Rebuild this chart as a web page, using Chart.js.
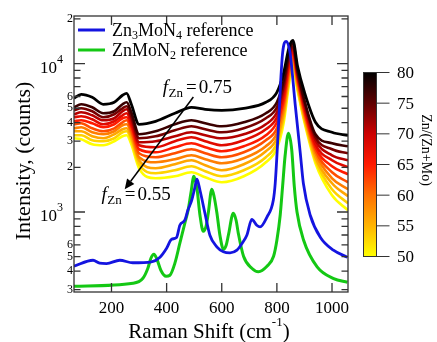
<!DOCTYPE html>
<html>
<head>
<meta charset="utf-8">
<script src="https://cdn.jsdelivr.net/npm/chart.js@4.4.1/dist/chart.umd.min.js"></script>
<style>
  html, body { margin: 0; padding: 0; background: #fff; }
  #wrap { width: 437px; height: 342px; }
</style>
</head>
<body>
<div id="wrap"><canvas id="myChart" width="437" height="342"></canvas></div>
<script>
// Raman shift grid of the measured spectra (cm-1)
var shiftX = [64, 90, 130, 170, 210, 240, 255, 272, 300, 360, 430, 490, 540, 600, 680, 760, 800, 825, 845, 858, 875, 900, 940, 1000, 1058];

// Zn/(Zn+Mo) of each measured spectrum, top to bottom
var fracZn = [80, 77, 74, 71, 68, 65, 62, 59, 56, 53, 50];

// intensities (counts)
var spec80 = [5838, 6212, 5929, 5319, 5487, 6116, 6309, 5319, 3900, 4086, 4627, 5078, 4923, 4847, 5000, 5487, 6408, 8739, 13080, 14357, 9591, 6408, 4023, 3445, 3289];
var spec77 = [5078, 5319, 5078, 4627, 4772, 5319, 5487, 4699, 3340, 3499, 3900, 4150, 3961, 3781, 4023, 4627, 5487, 7719, 12294, 13704, 9014, 5660, 3340, 2905, 2773];
var spec74 = [4847, 5000, 4772, 4348, 4555, 5000, 5157, 4416, 3139, 3238, 3554, 3781, 3609, 3445, 3665, 4281, 5078, 7143, 11554, 13080, 8739, 5487, 3188, 2647, 2487];
var spec71 = [4555, 4699, 4485, 4150, 4281, 4772, 4923, 4215, 2950, 2996, 3238, 3445, 3289, 3139, 3340, 3900, 4699, 6713, 11028, 12681, 8472, 5238, 3043, 2411, 2231];
var spec68 = [4348, 4416, 4215, 3900, 4086, 4485, 4627, 3961, 2816, 2730, 2996, 3188, 2996, 2816, 3043, 3609, 4348, 6212, 10365, 12105, 8213, 5078, 2860, 2231, 2002];
var spec65 = [4086, 4150, 3961, 3723, 3900, 4281, 4348, 3781, 2647, 2526, 2730, 2905, 2730, 2566, 2773, 3289, 4023, 5748, 9893, 11735, 7962, 4847, 2730, 2033, 1796];
var spec62 = [3900, 3961, 3665, 3499, 3665, 4023, 4150, 3554, 2487, 2337, 2487, 2647, 2487, 2337, 2526, 3043, 3665, 5403, 9298, 11201, 7719, 4699, 2606, 1853, 1586];
var spec59 = [3665, 3723, 3445, 3340, 3499, 3840, 3900, 3392, 2337, 2163, 2266, 2411, 2266, 2130, 2301, 2773, 3392, 5000, 8875, 10859, 7368, 4485, 2487, 1688, 1423];
var spec56 = [3499, 3499, 3238, 3139, 3340, 3609, 3665, 3188, 2231, 1971, 2097, 2231, 2065, 1911, 2097, 2566, 3139, 4627, 8341, 10365, 7143, 4348, 2337, 1562, 1277];
var spec53 = [3289, 3289, 3043, 2996, 3139, 3445, 3499, 3043, 2097, 1824, 1911, 2033, 1882, 1741, 1911, 2337, 2905, 4348, 7962, 10048, 6818, 4150, 2231, 1423, 1146];
var spec50 = [3139, 3091, 2860, 2816, 2996, 3238, 3289, 2860, 1971, 1688, 1741, 1853, 1714, 1586, 1741, 2163, 2688, 4023, 7483, 9591, 6610, 4023, 2130, 1297, 1027];
var spectra = [spec80, spec77, spec74, spec71, spec68, spec65, spec62, spec59, spec56, spec53, spec50];

// reference spectra
var zn3mon4X = [64, 133, 157, 182, 230, 277, 345, 376, 400, 418, 436, 448, 466, 477, 491, 503, 510, 521, 539, 557, 582, 606, 630, 655, 677, 691, 709, 727, 739, 764, 787, 794, 805, 814, 821, 834, 848, 866, 885, 896, 921, 958, 1005, 1056];
var zn3mon4Y = [431, 473, 452, 449, 473, 455, 462, 496, 570, 655, 673, 814, 880, 1027, 1200, 1476, 1662, 1401, 981, 697, 583, 540, 531, 553, 628, 697, 890, 814, 793, 925, 1200, 1562, 3554, 7719, 11918, 14136, 11735, 5403, 2487, 1562, 951, 673, 553, 496];
var znmon2X = [64, 278, 314, 332, 343, 354, 365, 379, 398, 412, 430, 448, 467, 478, 488, 499, 510, 521, 533, 543, 551, 564, 572, 582, 594, 606, 616, 624, 642, 652, 660, 679, 709, 733, 764, 788, 800, 812, 821, 830, 842, 854, 863, 873, 897, 946, 1006, 1056];
var znmon2Y = [316, 331, 358, 418, 488, 519, 480, 405, 369, 375, 452, 616, 853, 1027, 1337, 1741, 1445, 951, 742, 801, 980, 1423, 1277, 996, 686, 561, 597, 697, 980, 880, 720, 503, 418, 396, 431, 503, 645, 951, 1514, 2411, 3392, 2606, 1500, 1000, 645, 427, 356, 336];

// ticks
var xTicks = [200, 400, 600, 800, 1000];
var yMajor = [1000, 10000];
var yMinor = [300, 400, 500, 600, 700, 800, 900, 2000, 3000, 4000, 5000, 6000, 7000, 8000, 9000, 20000];
var yLabelled = [300, 400, 500, 600, 2000, 3000, 4000, 5000, 6000, 20000];
var barTicks = [50, 55, 60, 65, 70, 75, 80];

var SERIF = '"Liberation Serif", "DejaVu Serif", serif';

// colour map of the bar (yellow -> red -> black)
var stops = [[50, [255, 255, 0]], [55, [255, 180, 0]], [60, [255, 112, 0]], [65, [255, 26, 0]], [70, [204, 0, 0]], [75, [96, 0, 0]], [80, [0, 0, 0]]];
function hotColor(f) {
  for (var i = 1; i < stops.length; i++) {
    if (f <= stops[i][0]) {
      var a = stops[i - 1], b = stops[i];
      var t = (f - a[0]) / (b[0] - a[0]);
      var c = a[1].map(function (v, k) { return Math.round(v + (b[1][k] - v) * t); });
      return 'rgb(' + c.join(',') + ')';
    }
  }
  return 'rgb(0,0,0)';
}

function toPoints(xs, ys) {
  return xs.map(function (x, i) { return { x: x, y: ys[i] }; });
}

var datasets = [
  { label: 'Zn3MoN4 reference', data: toPoints(zn3mon4X, zn3mon4Y), borderColor: '#1414e0', borderWidth: 2.8 },
  { label: 'ZnMoN2 reference', data: toPoints(znmon2X, znmon2Y), borderColor: '#14c814', borderWidth: 3 }
];
spectra.forEach(function (s, i) {
  datasets.push({ label: 'f' + fracZn[i], data: toPoints(shiftX, s), borderColor: hotColor(fracZn[i]), borderWidth: i == 0 ? 2.8 : 2.6 });
});

function drawRich(ctx, x, y, parts, align) {
  var w = 0;
  parts.forEach(function (p) { ctx.font = p[1]; w += (p[3] || 0) + ctx.measureText(p[0]).width; });
  var cx = align === 'center' ? x - w / 2 : x;
  ctx.textAlign = 'left';
  ctx.textBaseline = 'alphabetic';
  parts.forEach(function (p) {
    ctx.font = p[1];
    cx += p[3] || 0;
    ctx.fillText(p[0], cx, y + (p[2] || 0));
    cx += ctx.measureText(p[0]).width;
  });
}

// annotation anchors in data units
var label75 = [386, 6300];
var label55 = [164, 1200];
var arrowFrom = [497, 5960];
var arrowTo = [248, 1423];

var decor = {
  id: 'decor',
  afterDraw: function (chart) {
    var ctx = chart.ctx, a = chart.chartArea, xs = chart.scales.x, ys = chart.scales.y;
    ctx.save();
    ctx.fillStyle = '#000';
    ctx.strokeStyle = '#333';
    ctx.lineWidth = 1.3;
    ctx.strokeRect(a.left, a.top, a.right - a.left, a.bottom - a.top);

    // inward ticks
    ctx.beginPath();
    xTicks.forEach(function (v) {
      var p = xs.getPixelForValue(v);
      ctx.moveTo(p, a.bottom); ctx.lineTo(p, a.bottom - 9);
      ctx.moveTo(p, a.top); ctx.lineTo(p, a.top + 9);
    });
    yMinor.forEach(function (v) {
      var p = ys.getPixelForValue(v);
      ctx.moveTo(a.left, p); ctx.lineTo(a.left + 6.5, p);
      ctx.moveTo(a.right, p); ctx.lineTo(a.right - 6.5, p);
    });
    yMajor.forEach(function (v) {
      var p = ys.getPixelForValue(v);
      ctx.moveTo(a.left, p); ctx.lineTo(a.left + 11, p);
      ctx.moveTo(a.right, p); ctx.lineTo(a.right - 11, p);
    });
    ctx.stroke();

    // x tick labels
    ctx.font = '17px ' + SERIF;
    ctx.textAlign = 'center';
    ctx.textBaseline = 'alphabetic';
    xTicks.forEach(function (v) {
      ctx.fillText(String(v), xs.getPixelForValue(v), 313);
    });

    // y tick labels
    ctx.font = '12px ' + SERIF;
    ctx.textAlign = 'right';
    ctx.textBaseline = 'middle';
    yLabelled.forEach(function (v) {
      var d = String(v).charAt(0);
      ctx.fillText(d, a.left - 1, ys.getPixelForValue(v));
    });
    yMajor.forEach(function (v) {
      var p = ys.getPixelForValue(v);
      var e = String(Math.round(Math.log10(v)));
      drawRich(ctx, 40, p + 9, [['10', '17px ' + SERIF], [e, '12px ' + SERIF, -10]]);
    });

    // axis titles
    drawRich(ctx, 209, 338, [['Raman Shift (cm', '21px ' + SERIF], ['-1', '13px ' + SERIF, -12], [')', '21px ' + SERIF]], 'center');
    ctx.save();
    ctx.translate(24, 161);
    ctx.rotate(-Math.PI / 2);
    ctx.font = '22px ' + SERIF;
    ctx.textAlign = 'center';
    ctx.textBaseline = 'middle';
    ctx.fillText('Intensity, (counts)', 0, 0);
    ctx.restore();

    // legend
    ctx.lineWidth = 3;
    ctx.strokeStyle = datasets[0].borderColor;
    ctx.beginPath(); ctx.moveTo(78, 30); ctx.lineTo(105, 30); ctx.stroke();
    ctx.strokeStyle = datasets[1].borderColor;
    ctx.beginPath(); ctx.moveTo(78, 50); ctx.lineTo(105, 50); ctx.stroke();
    drawRich(ctx, 112, 36, [['Zn', '18px ' + SERIF], ['3', '12px ' + SERIF, 3], ['MoN', '18px ' + SERIF], ['4', '12px ' + SERIF, 3], [' reference', '18px ' + SERIF]]);
    drawRich(ctx, 112, 55.5, [['ZnMoN', '18px ' + SERIF], ['2', '12px ' + SERIF, 3], [' reference', '18px ' + SERIF]]);

    // composition labels and arrow
    [[label75, '0.75'], [label55, '0.55']].forEach(function (l) {
      drawRich(ctx, xs.getPixelForValue(l[0][0]), ys.getPixelForValue(l[0][1]),
        [['f', 'italic 19px ' + SERIF], ['Zn', '13px ' + SERIF, 3.5, 0.5], ['=', '19px ' + SERIF, 0, 3], [l[1], '19px ' + SERIF, 0, 2]]);
    });
    var x0 = xs.getPixelForValue(arrowFrom[0]), y0 = ys.getPixelForValue(arrowFrom[1]);
    var x1 = xs.getPixelForValue(arrowTo[0]), y1 = ys.getPixelForValue(arrowTo[1]);
    var ang = Math.atan2(y1 - y0, x1 - x0), hl = 10, hw = 4.5;
    var bx = x1 - hl * Math.cos(ang), by = y1 - hl * Math.sin(ang);
    ctx.strokeStyle = '#000';
    ctx.lineWidth = 1.5;
    ctx.beginPath(); ctx.moveTo(x0, y0); ctx.lineTo(bx, by); ctx.stroke();
    ctx.beginPath();
    ctx.moveTo(x1, y1);
    ctx.lineTo(bx + hw * Math.sin(ang), by - hw * Math.cos(ang));
    ctx.lineTo(bx - hw * Math.sin(ang), by + hw * Math.cos(ang));
    ctx.closePath();
    ctx.fill();

    // colour bar
    var cbL = 363.5, cbT = 72.5, cbW = 13, cbH = 184;
    var g = ctx.createLinearGradient(0, cbT + cbH, 0, cbT);
    stops.forEach(function (s) { g.addColorStop((s[0] - 50) / 30, hotColor(s[0])); });
    ctx.fillStyle = g;
    ctx.fillRect(cbL, cbT, cbW, cbH);
    ctx.strokeStyle = '#333';
    ctx.lineWidth = 1;
    ctx.strokeRect(cbL, cbT, cbW, cbH);
    ctx.beginPath();
    ctx.fillStyle = '#000';
    ctx.font = '17px ' + SERIF;
    ctx.textAlign = 'left';
    ctx.textBaseline = 'middle';
    barTicks.forEach(function (v) {
      var p = cbT + cbH - (v - 50) / 30 * cbH;
      ctx.moveTo(cbL + cbW, p); ctx.lineTo(cbL + cbW + 13, p);
      ctx.fillText(String(v), 397, p + 1);
    });
    ctx.stroke();
    ctx.save();
    ctx.translate(426, 150);
    ctx.rotate(Math.PI / 2);
    ctx.font = '14px ' + SERIF;
    ctx.textAlign = 'center';
    ctx.textBaseline = 'middle';
    ctx.fillText('Zn/(Zn+Mo)', 0, 0);
    ctx.restore();

    ctx.restore();
  }
};

var ctx = document.getElementById('myChart').getContext('2d');
var chart = new Chart(ctx, {
  type: 'line',
  data: { datasets: datasets },
  options: {
    responsive: false,
    animation: false,
    layout: { padding: { left: 74, top: 16, right: 89, bottom: 50 } },
    elements: {
      point: { radius: 0 },
      line: { cubicInterpolationMode: 'monotone', fill: false }
    },
    plugins: { legend: { display: false }, tooltip: { enabled: false } },
    scales: {
      x: { type: 'linear', min: 64, max: 1058, display: false },
      y: { type: 'logarithmic', min: 289, max: 20930, display: false }
    }
  },
  plugins: [decor]
});
</script>
</body>
</html>
